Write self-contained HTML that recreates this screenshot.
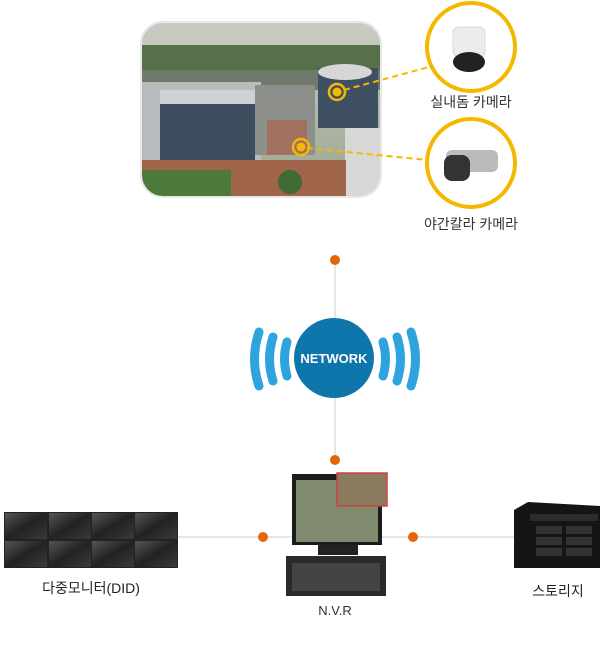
<!DOCTYPE html>
<html><head><meta charset="utf-8"><style>
html,body{margin:0;padding:0;background:#fff;}
svg{display:block;}
text{font-family:"Liberation Sans","Noto Sans CJK KR",sans-serif;}
</style></head><body>
<svg width="600" height="651" viewBox="0 0 600 651" xmlns="http://www.w3.org/2000/svg">
<defs>
<clipPath id="ph"><rect x="141" y="22" width="240" height="175" rx="22"/></clipPath>
<linearGradient id="sky" x1="0" y1="0" x2="0" y2="1"><stop offset="0" stop-color="#c9ccc4"/><stop offset="1" stop-color="#9aa58c"/></linearGradient>
<linearGradient id="mon" x1="0" y1="0" x2="1" y2="1"><stop offset="0" stop-color="#555"/><stop offset="0.5" stop-color="#222"/><stop offset="1" stop-color="#3a3a3a"/></linearGradient>
</defs>
<g clip-path="url(#ph)">
<rect x="141" y="22" width="240" height="175" fill="url(#sky)"/>
<rect x="141" y="45" width="240" height="35" fill="#56704a"/>
<rect x="141" y="70" width="240" height="20" fill="#6f7a6a"/>
<rect x="141" y="82" width="120" height="80" fill="#b9bcbf"/>
<rect x="160" y="100" width="95" height="60" fill="#3d4d5e"/>
<rect x="160" y="90" width="95" height="14" fill="#cfd1d4"/>
<rect x="255" y="85" width="60" height="70" fill="#8d8f8a"/>
<rect x="267" y="120" width="40" height="35" fill="#a07060"/>
<rect x="318" y="68" width="60" height="60" fill="#3e5062"/>
<ellipse cx="345" cy="72" rx="27" ry="8" fill="#d6d6d6"/>
<rect x="345" y="128" width="36" height="70" fill="#d7d7d7"/>
<rect x="141" y="160" width="205" height="40" fill="#a0644a"/>
<rect x="141" y="170" width="90" height="30" fill="#4d7a3a"/>
<circle cx="290" cy="182" r="12" fill="#3f6a33"/>
</g>
<rect x="141" y="22" width="240" height="175" rx="22" fill="none" stroke="#e8e8e8" stroke-width="2"/>
<line x1="344" y1="90" x2="429" y2="67" stroke="#f5b800" stroke-width="2" stroke-dasharray="6,4"/>
<line x1="307" y1="148" x2="427" y2="160" stroke="#f5b800" stroke-width="2" stroke-dasharray="6,4"/>
<circle cx="337" cy="92" r="8" fill="none" stroke="#f5b800" stroke-width="2.5"/>
<circle cx="337" cy="92" r="4.5" fill="#f5b800"/>
<circle cx="301" cy="147" r="8" fill="none" stroke="#f5b800" stroke-width="2.5"/>
<circle cx="301" cy="147" r="4.5" fill="#f5b800"/>
<circle cx="471" cy="47" r="44" fill="#fff" stroke="#f5b800" stroke-width="4"/>
<rect x="453" y="27" width="32" height="30" rx="6" fill="#ececec" stroke="#d8d8d8"/>
<ellipse cx="469" cy="62" rx="16" ry="10" fill="#222"/>
<circle cx="471" cy="163" r="44" fill="#fff" stroke="#f5b800" stroke-width="4"/>
<rect x="446" y="150" width="52" height="22" rx="6" fill="#bbb"/>
<rect x="444" y="155" width="26" height="26" rx="8" fill="#333"/>
<text x="471" y="107" font-size="14" text-anchor="middle" fill="#333">실내돔 카메라</text>
<text x="471" y="229" font-size="14" text-anchor="middle" fill="#333">야간칼라 카메라</text>
<line x1="335" y1="260" x2="335" y2="460" stroke="#ccc" stroke-width="1"/>
<circle cx="335" cy="260" r="5" fill="#e8640a"/>
<circle cx="335" cy="460" r="5" fill="#e8640a"/>
<g fill="none" stroke="#2fa3dc" stroke-width="9" stroke-linecap="round">
<path d="M259 332 Q250 359 259 386"/>
<path d="M273 337 Q266 359 273 381"/>
<path d="M287 342 Q282 359 287 376"/>
<path d="M411 332 Q420 359 411 386"/>
<path d="M397 337 Q404 359 397 381"/>
<path d="M383 342 Q388 359 383 376"/>
</g>
<circle cx="334" cy="358" r="40" fill="#0e76aa"/>
<text x="334" y="363" font-size="13" font-weight="bold" text-anchor="middle" fill="#fff">NETWORK</text>
<line x1="178" y1="537" x2="520" y2="537" stroke="#ccc" stroke-width="1"/>
<circle cx="263" cy="537" r="5" fill="#e8640a"/>
<circle cx="413" cy="537" r="5" fill="#e8640a"/>
<rect x="4" y="512" width="174" height="56" fill="#222"/>
<g fill="url(#mon)">
<rect x="5" y="513" width="42" height="26"/><rect x="49" y="513" width="42" height="26"/><rect x="92" y="513" width="42" height="26"/><rect x="135" y="513" width="42" height="26"/>
<rect x="5" y="541" width="42" height="26"/><rect x="49" y="541" width="42" height="26"/><rect x="92" y="541" width="42" height="26"/><rect x="135" y="541" width="42" height="26"/>
</g>
<text x="91" y="593" font-size="14" text-anchor="middle" fill="#222">다중모니터(DID)</text>
<rect x="292" y="474" width="90" height="71" fill="#1c1c1c"/>
<rect x="296" y="480" width="82" height="62" fill="#7f8a6e"/>
<rect x="337" y="473" width="50" height="33" fill="#8a7a60" stroke="#d24040" stroke-width="1.5"/>
<rect x="318" y="545" width="40" height="10" fill="#222"/>
<rect x="286" y="556" width="100" height="40" fill="#2a2a2a"/>
<rect x="292" y="563" width="88" height="28" fill="#444"/>
<text x="335" y="615" font-size="13" text-anchor="middle" fill="#333">N.V.R</text>
<path d="M514 510 L528 502 L600 506 L600 568 L514 568 Z" fill="#151515"/>
<rect x="530" y="514" width="68" height="7" fill="#2c2c2c"/>
<g fill="#333"><rect x="536" y="526" width="26" height="8"/><rect x="566" y="526" width="26" height="8"/><rect x="536" y="537" width="26" height="8"/><rect x="566" y="537" width="26" height="8"/><rect x="536" y="548" width="26" height="8"/><rect x="566" y="548" width="26" height="8"/></g>
<text x="558" y="596" font-size="14" text-anchor="middle" fill="#222">스토리지</text>
</svg>
</body></html>
